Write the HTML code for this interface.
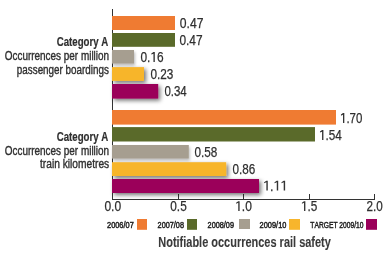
<!DOCTYPE html>
<html><head><meta charset="utf-8">
<style>
html,body{margin:0;padding:0;background:#fff;}
body{width:391px;height:258px;overflow:hidden;}
svg{display:block;}
text{font-family:"Liberation Sans",sans-serif;fill:#2f2f2f;stroke:#2f2f2f;stroke-width:0.25px;font-kerning:none;}
tspan.h{fill:none;stroke:none;}
text.b{font-weight:bold;}
text.leg{fill:#222;stroke:#222;stroke-width:0.45px;}
text.title{fill:#3a3a3a;stroke:#3a3a3a;stroke-width:0.1px;}
text.cat{stroke-width:0.38px;}
text.cat.b{stroke-width:0.2px;}
</style></head><body>
<svg style="will-change:transform" width="391" height="258" viewBox="0 0 391 258">
<defs>
<filter id="sh" x="-20%" y="-50%" width="150%" height="200%">
<feGaussianBlur in="SourceAlpha" stdDeviation="1.9"/>
<feOffset dx="2" dy="1.8" result="o"/>
<feComponentTransfer><feFuncA type="linear" slope="0.55"/></feComponentTransfer>
<feMerge><feMergeNode/><feMergeNode in="SourceGraphic"/></feMerge>
</filter>
<filter id="sh2" x="-20%" y="-50%" width="150%" height="200%">
<feGaussianBlur in="SourceAlpha" stdDeviation="1.5"/>
<feOffset dx="0.8" dy="1.6" result="o"/>
<feComponentTransfer><feFuncA type="linear" slope="0.28"/></feComponentTransfer>
<feMerge><feMergeNode/><feMergeNode in="SourceGraphic"/></feMerge>
</filter>
</defs>
<rect x="112" y="9" width="1" height="191" fill="#333"/>
<rect x="112" y="199" width="263" height="1" fill="#333"/>
<rect x="178" y="194" width="1" height="5" fill="#333"/>
<rect x="243" y="194" width="1" height="5" fill="#333"/>
<rect x="309" y="194" width="1" height="5" fill="#333"/>
<rect x="374" y="194" width="1" height="5" fill="#333"/>
<rect x="112" y="16" width="63" height="14" fill="#EF7B32"/>
<rect x="112" y="33" width="63" height="13.8" fill="#5A6A2A"/>
<rect x="112" y="110" width="224" height="14.6" fill="#EF7B32"/>
<rect x="112" y="127.1" width="203" height="14.4" fill="#5A6A2A"/>
<g filter="url(#sh2)">
<rect x="112" y="50" width="22" height="13.6" fill="#A69E90"/>
<rect x="112" y="145" width="76.8" height="13.6" fill="#A69E90"/>
</g>
<g filter="url(#sh)">
<rect x="112" y="67.1" width="32" height="13.8" fill="#F7B52C"/>
<rect x="112" y="84" width="46.2" height="14.6" fill="#9B005A"/>
<rect x="112" y="162.2" width="114.2" height="13.8" fill="#F7B52C"/>
<rect x="112" y="179" width="147" height="14" fill="#9B005A"/>
</g>
<text id="cat1" x="56.75" y="45.50" font-size="12.50" textLength="51.60" lengthAdjust="spacingAndGlyphs" class="cat b">Category A</text>
<text id="occ1" x="4.75" y="60.00" font-size="12.50" textLength="104.31" lengthAdjust="spacingAndGlyphs" class="cat">Occurrences per million</text>
<text id="pas1" x="16.85" y="74.00" font-size="12.50" textLength="91.96" lengthAdjust="spacingAndGlyphs" class="cat">passenger boardings</text>
<text id="cat2" x="56.75" y="140.50" font-size="12.50" textLength="51.60" lengthAdjust="spacingAndGlyphs" class="cat b">Category A</text>
<text id="occ2" x="4.75" y="155.00" font-size="12.50" textLength="104.31" lengthAdjust="spacingAndGlyphs" class="cat">Occurrences per million</text>
<text id="trn2" x="40.00" y="168.00" font-size="12.50" textLength="69.15" lengthAdjust="spacingAndGlyphs" class="cat">train kilometres</text>
<text id="v1" x="179.85" y="27.80" font-size="14.30" textLength="23.68" lengthAdjust="spacingAndGlyphs" class="val">0.47</text>
<text id="v2" x="179.40" y="44.80" font-size="14.30" textLength="23.19" lengthAdjust="spacingAndGlyphs" class="val">0.47</text>
<text id="v3" x="140.40" y="61.95" font-size="14.30" textLength="23.18" lengthAdjust="spacingAndGlyphs" class="val">0.<tspan class="h">1</tspan>6</text>
<text id="v4" x="150.40" y="78.80" font-size="14.30" textLength="22.89" lengthAdjust="spacingAndGlyphs" class="val">0.23</text>
<text id="v5" x="164.40" y="95.80" font-size="14.30" textLength="22.37" lengthAdjust="spacingAndGlyphs" class="val">0.34</text>
<text id="v6" x="340.00" y="123.00" font-size="14.30" textLength="22.37" lengthAdjust="spacingAndGlyphs" class="val"><tspan class="h">1</tspan>.70</text>
<text id="v7" x="319.00" y="139.95" font-size="14.30" textLength="22.91" lengthAdjust="spacingAndGlyphs" class="val"><tspan class="h">1</tspan>.54</text>
<text id="v8" x="194.40" y="156.85" font-size="14.30" textLength="22.83" lengthAdjust="spacingAndGlyphs" class="val">0.58</text>
<text id="v9" x="232.40" y="173.85" font-size="14.30" textLength="22.74" lengthAdjust="spacingAndGlyphs" class="val">0.86</text>
<text id="v10" x="263.10" y="190.60" font-size="14.30" textLength="24.28" lengthAdjust="spacingAndGlyphs" class="val"><tspan class="h">1</tspan>.<tspan class="h">1</tspan><tspan class="h">1</tspan></text>
<text id="t0" x="104.45" y="210.95" font-size="13.80" textLength="16.71" lengthAdjust="spacingAndGlyphs" class="tick">0.0</text>
<text id="t1" x="170.30" y="210.95" font-size="13.80" textLength="16.39" lengthAdjust="spacingAndGlyphs" class="tick">0.5</text>
<text id="t2" x="235.10" y="210.95" font-size="13.80" textLength="16.76" lengthAdjust="spacingAndGlyphs" class="tick"><tspan class="h">1</tspan>.0</text>
<text id="t3" x="300.95" y="210.95" font-size="13.80" textLength="16.40" lengthAdjust="spacingAndGlyphs" class="tick"><tspan class="h">1</tspan>.5</text>
<text id="t4" x="366.45" y="210.95" font-size="13.80" textLength="16.25" lengthAdjust="spacingAndGlyphs" class="tick">2.0</text>
<text id="l1" x="107.05" y="228.10" font-size="8.50" textLength="26.71" lengthAdjust="spacingAndGlyphs" class="leg">2006/07</text>
<text id="l2" x="157.60" y="228.10" font-size="8.50" textLength="26.35" lengthAdjust="spacingAndGlyphs" class="leg">2007/08</text>
<text id="l3" x="207.60" y="228.10" font-size="8.50" textLength="26.36" lengthAdjust="spacingAndGlyphs" class="leg">2008/09</text>
<text id="l4" x="259.60" y="228.10" font-size="8.50" textLength="26.81" lengthAdjust="spacingAndGlyphs" class="leg">2009/10</text>
<text id="l5" x="310.35" y="227.65" font-size="9.00" textLength="53.15" lengthAdjust="spacingAndGlyphs" class="leg">TARGET 2009/10</text>
<text id="ttl" x="158.25" y="247.45" font-size="14.30" textLength="172.60" lengthAdjust="spacingAndGlyphs" class="title b">Notifiable occurrences rail safety</text>
<path d="M153.45 52.05H154.81V61.95H153.45V53.70L151.33 54.60V53.55Z" fill="#333"/>
<path d="M343.00 113.10H344.32V123.00H343.00V114.75L340.96 115.65V114.60Z" fill="#333"/>
<path d="M322.07 130.05H323.41V139.95H322.07V131.70L319.98 132.60V131.55Z" fill="#333"/>
<path d="M266.36 180.70H267.78V190.60H266.36V182.35L264.14 183.25V182.20Z" fill="#333"/>
<path d="M276.77 180.70H278.19V190.60H276.77V182.35L274.55 183.25V182.20Z" fill="#333"/>
<path d="M283.70 180.70H285.13V190.60H283.70V182.35L281.49 183.25V182.20Z" fill="#333"/>
<path d="M238.25 201.15H239.62V210.95H238.25V202.80L236.10 203.70V202.65Z" fill="#333"/>
<path d="M304.03 201.15H305.37V210.95H304.03V202.80L301.93 203.70V202.65Z" fill="#333"/>
<rect x="137" y="219" width="10" height="10.8" fill="#EF7B32"/>
<rect x="187" y="219" width="10" height="10.8" fill="#5A6A2A"/>
<rect x="239" y="219" width="11" height="10" fill="#A69E90"/>
<rect x="289" y="219" width="11" height="10.8" fill="#F7B52C"/>
<rect x="366" y="219" width="11" height="10.8" fill="#9B005A"/>
</svg>
</body></html>
